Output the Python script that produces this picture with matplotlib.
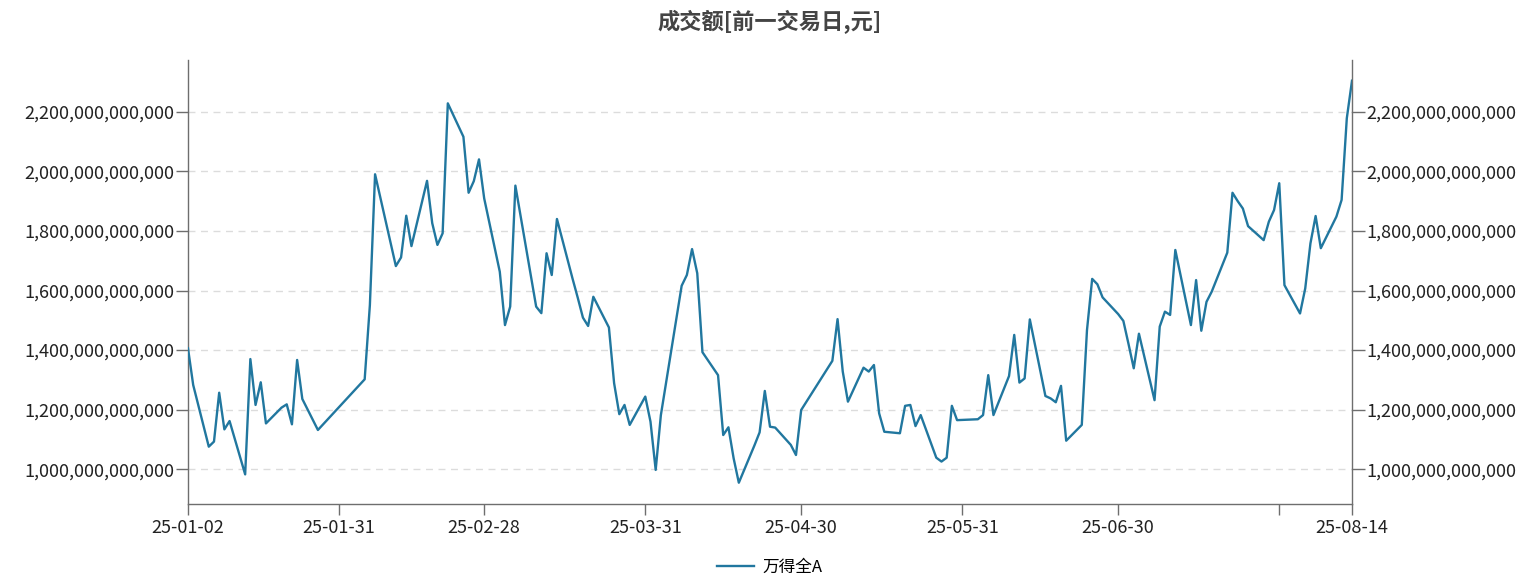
import matplotlib

matplotlib.use("Agg")
import matplotlib.pyplot as plt
import numpy as np
import pandas as pd
from matplotlib.ticker import FuncFormatter


TITLE = "成交额[前一交易日,元]"
SERIES_NAME = "万得全A"
LINE_COLOR = "#21779f"

# trading days
DATES = [
    "2025-01-02", "2025-01-03", "2025-01-06", "2025-01-07", "2025-01-08", "2025-01-09",
    "2025-01-10", "2025-01-13", "2025-01-14", "2025-01-15", "2025-01-16", "2025-01-17",
    "2025-01-20", "2025-01-21", "2025-01-22", "2025-01-23", "2025-01-24", "2025-01-27",
    "2025-02-05", "2025-02-06", "2025-02-07", "2025-02-10", "2025-02-11", "2025-02-12",
    "2025-02-13", "2025-02-14", "2025-02-17", "2025-02-18", "2025-02-19", "2025-02-20",
    "2025-02-21", "2025-02-24", "2025-02-25", "2025-02-26", "2025-02-27", "2025-02-28",
    "2025-03-03", "2025-03-04", "2025-03-05", "2025-03-06", "2025-03-07", "2025-03-10",
    "2025-03-11", "2025-03-12", "2025-03-13", "2025-03-14", "2025-03-17", "2025-03-18",
    "2025-03-19", "2025-03-20", "2025-03-21", "2025-03-24", "2025-03-25", "2025-03-26",
    "2025-03-27", "2025-03-28", "2025-03-31", "2025-04-01", "2025-04-02", "2025-04-03",
    "2025-04-07", "2025-04-08", "2025-04-09", "2025-04-10", "2025-04-11", "2025-04-14",
    "2025-04-15", "2025-04-16", "2025-04-17", "2025-04-18", "2025-04-21", "2025-04-22",
    "2025-04-23", "2025-04-24", "2025-04-25", "2025-04-28", "2025-04-29", "2025-04-30",
    "2025-05-06", "2025-05-07", "2025-05-08", "2025-05-09", "2025-05-12", "2025-05-13",
    "2025-05-14", "2025-05-15", "2025-05-16", "2025-05-19", "2025-05-20", "2025-05-21",
    "2025-05-22", "2025-05-23", "2025-05-26", "2025-05-27", "2025-05-28", "2025-05-29",
    "2025-05-30", "2025-06-03", "2025-06-04", "2025-06-05", "2025-06-06", "2025-06-09",
    "2025-06-10", "2025-06-11", "2025-06-12", "2025-06-13", "2025-06-16", "2025-06-17",
    "2025-06-18", "2025-06-19", "2025-06-20", "2025-06-23", "2025-06-24", "2025-06-25",
    "2025-06-26", "2025-06-27", "2025-06-30", "2025-07-01", "2025-07-02", "2025-07-03",
    "2025-07-04", "2025-07-07", "2025-07-08", "2025-07-09", "2025-07-10", "2025-07-11",
    "2025-07-14", "2025-07-15", "2025-07-16", "2025-07-17", "2025-07-18", "2025-07-21",
    "2025-07-22", "2025-07-23", "2025-07-24", "2025-07-25", "2025-07-28", "2025-07-29",
    "2025-07-30", "2025-07-31", "2025-08-01", "2025-08-04", "2025-08-05", "2025-08-06",
    "2025-08-07", "2025-08-08", "2025-08-11", "2025-08-12", "2025-08-13", "2025-08-14",
]

# turnover in trillion yuan
TURNOVER_T = [
    1.406, 1.283, 1.076, 1.093, 1.257, 1.134,
    1.162, 0.983, 1.370, 1.216, 1.292, 1.154,
    1.207, 1.218, 1.151, 1.367, 1.236, 1.132,
    1.302, 1.551, 1.990, 1.759, 1.682, 1.711,
    1.851, 1.749, 1.968, 1.826, 1.753, 1.792,
    2.228, 2.116, 1.928, 1.967, 2.040, 1.909,
    1.663, 1.484, 1.546, 1.952, 1.850, 1.546,
    1.524, 1.725, 1.652, 1.840, 1.640, 1.576,
    1.509, 1.481, 1.579, 1.476, 1.289, 1.185,
    1.216, 1.149, 1.244, 1.160, 0.998, 1.182,
    1.616, 1.652, 1.739, 1.658, 1.393, 1.316,
    1.115, 1.141, 1.037, 0.955, 1.080, 1.124,
    1.263, 1.143, 1.140, 1.082, 1.048, 1.199,
    1.364, 1.504, 1.328, 1.227, 1.341, 1.328,
    1.350, 1.188, 1.126, 1.121, 1.213, 1.216,
    1.145, 1.182, 1.039, 1.026, 1.039, 1.213,
    1.165, 1.168, 1.182, 1.316, 1.182, 1.313,
    1.451, 1.291, 1.305, 1.503, 1.246, 1.238,
    1.225, 1.280, 1.096, 1.149, 1.467, 1.639,
    1.621, 1.577, 1.521, 1.498, 1.420, 1.339,
    1.455, 1.232, 1.479, 1.529, 1.518, 1.736,
    1.484, 1.635, 1.465, 1.562, 1.596, 1.727,
    1.928, 1.900, 1.875, 1.816, 1.769, 1.831,
    1.870, 1.960, 1.618, 1.523, 1.607, 1.758,
    1.850, 1.742, 1.848, 1.904, 2.178, 2.304,
]

X_TICKS = ["2025-01-02", "2025-01-31", "2025-02-28", "2025-03-31", "2025-04-30",
           "2025-05-31", "2025-06-30", "2025-07-31", "2025-08-14"]
X_TICK_LABELS = ["25-01-02", "25-01-31", "25-02-28", "25-03-31", "25-04-30",
                 "25-05-31", "25-06-30", "", "25-08-14"]
Y_TICKS = [1.0e12, 1.2e12, 1.4e12, 1.6e12, 1.8e12, 2.0e12, 2.2e12]

plt.rcParams["font.family"] = ["Noto Sans CJK SC", "DejaVu Sans"]

dates = pd.to_datetime(DATES)
values = np.array(TURNOVER_T) * 1e12

fig = plt.figure(figsize=(15.39, 5.81), dpi=100)
ax = fig.add_axes([188 / 1539, 1 - 504 / 581, (1352 - 188) / 1539, (504 - 60) / 581])
ax2 = ax.twinx()

line, = ax.plot(dates, values, color=LINE_COLOR, linewidth=1.7, label=SERIES_NAME, zorder=3)

ax.set_xlim(pd.Timestamp("2025-01-02"), pd.Timestamp("2025-08-14"))
ylim = (0.8836e12, 2.3735e12)
fmt = FuncFormatter(lambda v, _: f"{v:,.0f}")
for a in (ax, ax2):
    a.set_ylim(*ylim)
    a.set_yticks(Y_TICKS)
    a.yaxis.set_major_formatter(fmt)
    a.spines["top"].set_visible(False)
    for side in ("left", "right", "bottom"):
        a.spines[side].set_color("#6e6e6e")
        a.spines[side].set_linewidth(1.0)
    a.tick_params(axis="y", labelsize=13, colors="#6e6e6e", labelcolor="#222222",
                  length=9, width=1.0, pad=1)

ax.spines["right"].set_visible(False)
ax2.spines["left"].set_visible(False)
ax2.spines["bottom"].set_visible(False)

ax.set_xticks(pd.to_datetime(X_TICKS))
ax.set_xticklabels(X_TICK_LABELS)
ax.tick_params(axis="x", labelsize=13, colors="#6e6e6e", labelcolor="#222222",
               length=8, width=1.0, pad=3)

ax.grid(axis="y", color="#dcdcdc", linestyle=(0, (5, 4)), linewidth=1.0, zorder=0)
ax.set_axisbelow(True)

fig.text(0.5, 1 - 22 / 581, TITLE, ha="center", va="center", fontsize=16,
         fontweight="bold", color="#444444")

fig.legend(handles=[line], loc="center", bbox_to_anchor=(0.5, 1 - 567 / 581),
           frameon=False, fontsize=12, handlelength=2.2, handletextpad=0.5)

fig.savefig("out.png", dpi=100)
plt.close(fig)
